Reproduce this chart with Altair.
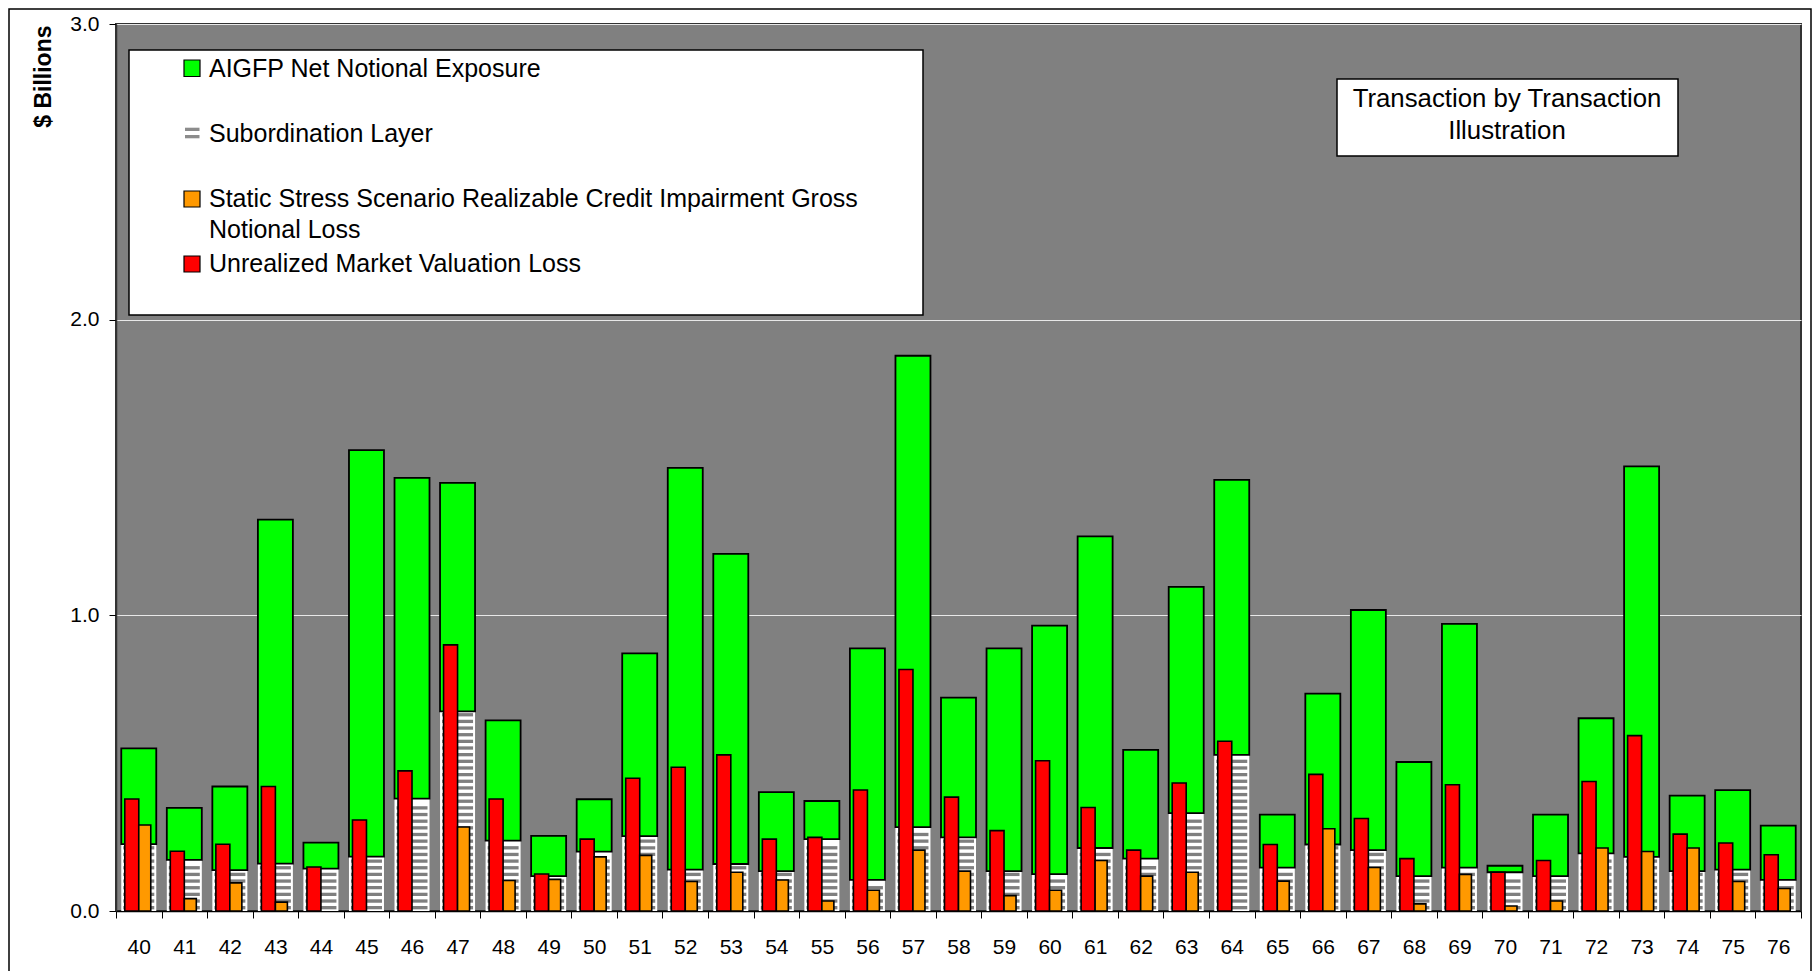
import altair as alt
import pandas as pd

# ---- data ($ billions) ----
transactions = [str(i) for i in range(40, 77)]
subordination = [0.226, 0.173, 0.138, 0.160, 0.143, 0.184, 0.380, 0.675, 0.238, 0.118,
                 0.201, 0.253, 0.140, 0.159, 0.135, 0.243, 0.105, 0.284, 0.249, 0.135,
                 0.125, 0.213, 0.177, 0.331, 0.528, 0.147, 0.225, 0.206, 0.118, 0.147,
                 0.131, 0.118, 0.195, 0.183, 0.135, 0.140, 0.105]
net_exposure = [0.324, 0.176, 0.283, 1.164, 0.088, 1.375, 1.085, 0.773, 0.407, 0.136,
                0.177, 0.618, 1.359, 1.049, 0.267, 0.129, 0.783, 1.594, 0.473, 0.753,
                0.840, 1.054, 0.368, 0.765, 0.930, 0.179, 0.510, 0.812, 0.386, 0.824,
                0.022, 0.208, 0.457, 1.321, 0.255, 0.269, 0.184]
unrealized_loss = [0.379, 0.202, 0.226, 0.421, 0.149, 0.308, 0.474, 0.900, 0.379, 0.125,
                   0.243, 0.449, 0.486, 0.528, 0.243, 0.249, 0.409, 0.817, 0.385, 0.272,
                   0.508, 0.350, 0.206, 0.433, 0.574, 0.225, 0.462, 0.313, 0.177, 0.427,
                   0.131, 0.171, 0.438, 0.593, 0.260, 0.230, 0.190]
stress_loss = [0.291, 0.042, 0.095, 0.030, 0.0, 0.0, 0.0, 0.284, 0.103, 0.107,
               0.183, 0.188, 0.100, 0.131, 0.105, 0.034, 0.070, 0.206, 0.135, 0.052,
               0.070, 0.171, 0.118, 0.131, 0.0, 0.101, 0.278, 0.147, 0.024, 0.124,
               0.017, 0.034, 0.213, 0.201, 0.213, 0.100, 0.076]

legend_labels = ["AIGFP Net Notional Exposure", "Subordination Layer",
                 "Static Stress Scenario Realizable Credit Impairment Gross",
                 "Notional Loss", "Unrealized Market Valuation Loss"]
title_lines = ["Transaction by Transaction", "Illustration"]

df = pd.DataFrame({"deal": transactions, "sub": subordination, "net": net_exposure,
                   "unreal": unrealized_loss, "stress": stress_loss})
df["top"] = df["sub"] + df["net"]

# horizontal hatch lines of the subordination layer (pattern fill)
STEP = 0.0225
rows = []
for d, s in zip(transactions, subordination):
    k = 0
    while (k + 1) * STEP <= s + 1e-9:
        rows.append({"deal": d, "yy": (k + 0.5) * STEP})
        k += 1
stripes = pd.DataFrame(rows)

FONT = "Liberation Sans"
x_enc = alt.X("deal:N", sort=transactions,
              scale=alt.Scale(paddingInner=0, paddingOuter=0),
              axis=alt.Axis(title=None, labelAngle=0, tickBand="extent", tickSize=7,
                            labelPadding=18, labelFontSize=21, labelFont=FONT,
                            labelColor="black", domainColor="black", domainWidth=1.5,
                            tickColor="black", tickWidth=1, grid=False))
y_scale = alt.Scale(domain=[0, 3], nice=False, zero=True)
y_axis = alt.Axis(values=[0, 1, 2, 3], format=".1f", title="$ Billions",
                  titleFont=FONT, titleFontSize=23, titleFontWeight="bold",
                  titleColor="black", titleAngle=270, titleX=-73, titleY=1,
                  titleAlign="right", titleBaseline="middle",
                  grid=True, gridColor="#E8E8E8", gridWidth=1,
                  tickSize=7, tickColor="black", labelPadding=10, labelFontSize=21,
                  labelFont=FONT, labelColor="black", domainColor="#333333",
                  domainWidth=1.5)

base = alt.Chart(df)

sub_bg = base.mark_bar(width=35, fill="white").encode(
    x=x_enc, y=alt.Y("sub:Q", scale=y_scale, axis=y_axis))
sub_lines = alt.Chart(stripes).mark_tick(size=31, thickness=3.3, color="#7F7F7F",
                                         opacity=1).encode(
    x=x_enc, y=alt.Y("yy:Q", scale=y_scale, axis=y_axis))
green = base.mark_bar(width=35, fill="#00FF00", stroke="black", strokeWidth=1.8).encode(
    x=x_enc, y=alt.Y("top:Q", scale=y_scale, axis=y_axis), y2="sub:Q")
red = base.mark_bar(width=14, xOffset=-7, fill="#FF0000", stroke="black",
                    strokeWidth=1.6).encode(
    x=x_enc, y=alt.Y("unreal:Q", scale=y_scale, axis=y_axis))
orange = base.transform_filter("datum.stress > 0").mark_bar(
    width=12, xOffset=6, fill="#FF9900", stroke="black", strokeWidth=1.6).encode(
    x=x_enc, y=alt.Y("stress:Q", scale=y_scale, axis=y_axis))

one = alt.Chart(pd.DataFrame({"k": [0]}))

def box(x1, x2, y1, y2, **kw):
    return one.mark_rect(clip=False, **kw).encode(
        x=alt.value(x1), x2=alt.value(x2), y=alt.value(y1), y2=alt.value(y2))

def label(txt, x, y, align="left", size=25):
    return one.mark_text(text=txt, align=align, baseline="alphabetic", fontSize=size,
                         font=FONT, color="black", clip=False).encode(
        x=alt.value(x), y=alt.value(y))

frame = box(-107, 1695, -15, 1000, filled=False, stroke="black", strokeWidth=1.5)

legend_box = box(13, 807, 26, 291, fill="white", stroke="black", strokeWidth=1.5)
sym_green = box(68, 84, 36, 52.5, fill="#00FF00", stroke="black", strokeWidth=1.2)
sym_sub1 = box(69, 83.5, 103.7, 107, fill="#8C8C8C")
sym_sub2 = box(69, 83.5, 111, 114.3, fill="#8C8C8C")
sym_orange = box(68, 84, 167, 183, fill="#FF9900", stroke="black", strokeWidth=1.2)
sym_red = box(68, 84, 232, 248, fill="#FF0000", stroke="black", strokeWidth=1.2)
leg_texts = [label(legend_labels[0], 93, 53.3), label(legend_labels[1], 93, 117.7),
             label(legend_labels[2], 93, 183.3), label(legend_labels[3], 93, 214.3),
             label(legend_labels[4], 93, 247.7)]

title_box = box(1221, 1562, 55, 132, fill="white", stroke="black", strokeWidth=1.5)
title_texts = [label(title_lines[0], 1391, 82.7, "center", 25.8),
               label(title_lines[1], 1391, 115.3, "center", 25.8)]

chart = alt.layer(
    sub_bg, sub_lines, green, red, orange,
    legend_box, sym_green, sym_sub1, sym_sub2, sym_orange, sym_red, *leg_texts,
    title_box, *title_texts, frame
).properties(
    width=1685, height=887,
    padding={"left": 108, "top": 16, "right": 11, "bottom": 60},
    autosize=alt.AutoSizeParams(type="none"),
    background="white"
).configure_view(
    fill="#808080", stroke="#333333", strokeWidth=2
)

chart.save("out.html", embed_options={"renderer": "svg", "actions": False})
